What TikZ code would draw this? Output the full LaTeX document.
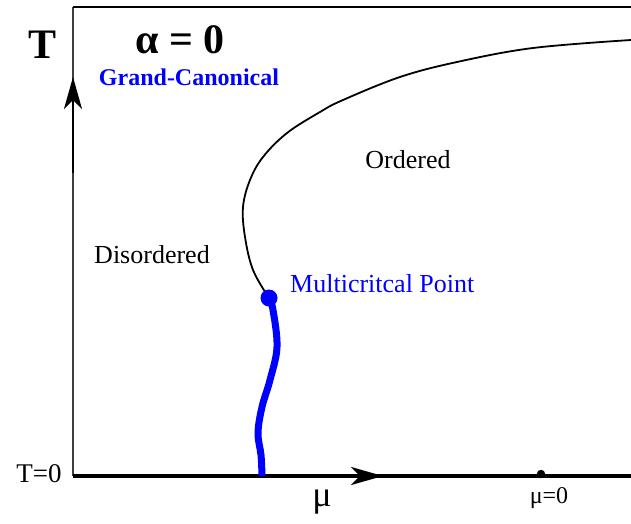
\documentclass[tikz,border=0pt]{standalone}
\usepackage{fontspec}
\setmainfont{Liberation Serif}
\usetikzlibrary{arrows.meta}

\begin{document}
\begin{tikzpicture}[x=1pt,y=-1pt,
  lbl/.style={font=\fontsize{26}{28}\selectfont,inner sep=0pt},
  bluelbl/.style={lbl,text=blue},
  axarrow/.style={-{Stealth[length=32pt,width=18pt,inset=9pt]}}]
  % page in pixel units, y downwards
  \useasboundingbox (0,0) rectangle (631,524);
  \def\yax{476}\def\xax{73}
  % frame
  \draw[black!75,line width=1.2pt] (\xax,\yax) -- (\xax,7);
  \draw[line width=2pt] (\xax,7) -- (631,7);
  \draw[line width=3.5pt] (\xax,\yax) -- (631,\yax);

  % axis arrows
  \coordinate (tfoot) at (\xax,173);\coordinate (ttip) at (\xax,77);
  \coordinate (mufoot) at (278,\yax);\coordinate (mutip) at (383,\yax);
  \draw[line width=2.5pt,axarrow] (tfoot) -- (ttip);
  \draw[line width=3.5pt,axarrow] (mufoot) -- (mutip);

  % phase boundary: multicritical point up to the top right
  \coordinate (mcp) at (269,298);
  \coordinate (tedge) at (631,40);
  \coordinate (base) at (262,\yax);
  \draw[line width=1.8pt] plot[smooth,tension=0.6] coordinates
    {(mcp) (253,270) (245,237) (243,207) (250,180) (263,157) (287,133)
     (320,112) (343,100) (400,77) (457,62) (533,48) (tedge)};
  % first order line down to T=0
  \draw[blue,line width=7pt] plot[smooth,tension=0.6] coordinates
    {(mcp) (273,310) (277,347) (270,380) (262,407) (258,433) (261,455) (base)};
  \fill[blue] (mcp) circle (8.5);
  \fill (541,474) circle (4.2);

  % labels
  \node[lbl,font=\fontsize{42}{44}\selectfont\bfseries] (tlab) at (43,45) {T};
  \node[lbl,font=\fontsize{42}{44}\selectfont\bfseries] (alpha) at (180,40) {α = 0};
  \node[bluelbl,font=\fontsize{24}{26}\selectfont\bfseries] (gc) at (189,77) {Grand-Canonical};
  \node[lbl] (ord) at (408,160) {Ordered};
  \node[lbl] (dis) at (152,255) {Disordered};
  \node[bluelbl,anchor=west] (mcplab) at (290,284) {Multicritcal Point};
  \node[lbl,font=\fontsize{27}{29}\selectfont] (tzero) at (39,474) {T=0};
  \node[lbl,font=\fontsize{36}{38}\selectfont] (mu) at (322,502) {μ};
  \node[lbl,font=\fontsize{24}{26}\selectfont] (muzero) at (549,498) {μ=0};
\end{tikzpicture}
\end{document}
